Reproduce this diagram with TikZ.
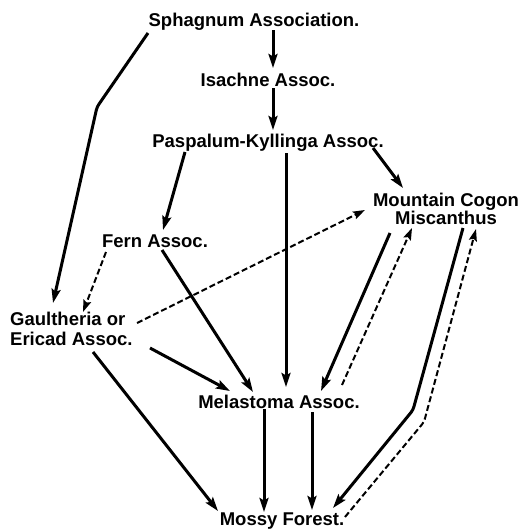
\documentclass[tikz,border=0pt]{standalone}
\usepackage{fontspec}
\setmainfont{Liberation Sans}
\usetikzlibrary{arrows.meta,calc}
\begin{document}
\begin{tikzpicture}[x=1pt,y=-1pt,
  lbl/.style={inner sep=0pt, font=\bfseries\fontsize{18.5}{17.5}\selectfont},
  sol/.style={line width=3pt, rounded corners=3pt, -{Stealth[length=14pt,width=9pt,inset=2.5pt]}},
  dsh/.style={line width=2pt, rounded corners=3pt, dash pattern=on 6pt off 3pt, -{Stealth[length=12pt,width=8pt,inset=2pt]}}]
\useasboundingbox (0,0) rectangle (526,530);
\node[lbl,anchor=base] (sph) at (254,27) {Sphagnum Association.};
\node[lbl,anchor=base] (isa) at (268,86) {Isachne Assoc.};
\node[lbl,anchor=base] (pas) at (268,147) {Paspalum-Kyllinga Assoc.};
\node[lbl,anchor=base,align=center] (mc) at (446,224) {Mountain Cogon\\Miscanthus};
\node[lbl,anchor=base] (fern) at (155,247) {Fern Assoc.};
\node[lbl,anchor=base west,align=left,font=\bfseries\fontsize{18.5}{20}\selectfont] (gau) at (10,345) {Gaultheria or\\Ericad Assoc.};
\node[lbl,anchor=base] (mel) at (279,408) {Melastoma Assoc.};
\node[lbl,anchor=base] (mos) at (282,525) {Mossy Forest.};
% solid connectors
\draw[sol] ($(sph.base)+(19,3)$) -- ($(isa.base)+(5,-18)$);
\draw[sol] ($(isa.base)+(5,2)$) -- ($(pas.base)+(5,-17)$);
\draw[sol] ($(sph.base)+(-106,6)$) -- ($(sph.base)+(-157,80)$) -- ($(gau.base west)+(43,-42)$);
\draw[sol] ($(pas.base)+(-83,5)$) -- ($(fern.base)+(8,-17)$);
\draw[sol] ($(pas.base)+(105,1)$) -- ($(mc.base)+(-43,-36)$);
\draw[sol] ($(pas.base)+(18,6)$) -- ($(mel.base)+(7,-21)$);
\draw[sol] ($(fern.base)+(7,3)$) -- ($(mel.base)+(-26,-16)$);
\draw[sol] ($(gau.base west)+(140,3)$) -- ($(mel.base)+(-49,-17)$);
\draw[sol] ($(gau.base west)+(83,7)$) -- ($(mos.base)+(-64,-14)$);
\draw[sol] ($(mc.base)+(-56,9)$) -- ($(mel.base)+(42,-17)$);
\draw[sol] ($(mc.base)+(17,4)$) -- ($(mc.base)+(-33,186)$) -- ($(mos.base)+(51,-17)$);
\draw[sol] ($(mel.base)+(-15,1)$) -- ($(mos.base)+(-18,-13)$);
\draw[sol] ($(mel.base)+(33,4)$) -- ($(mos.base)+(30,-15)$);
% dashed connectors
\draw[dsh] ($(fern.base)+(-49,5)$) -- ($(gau.base west)+(73,-33)$);
\draw[dsh] ($(gau.base west)+(127,-22)$) -- ($(mc.base)+(-81,-14)$);
\draw[dsh] ($(mel.base)+(63,-23)$) -- ($(mc.base)+(-34,4)$);
\draw[dsh] ($(mos.base)+(63,-8)$) -- ($(mos.base)+(142,-103)$) -- ($(mc.base)+(30,5)$);
\end{tikzpicture}
\end{document}
